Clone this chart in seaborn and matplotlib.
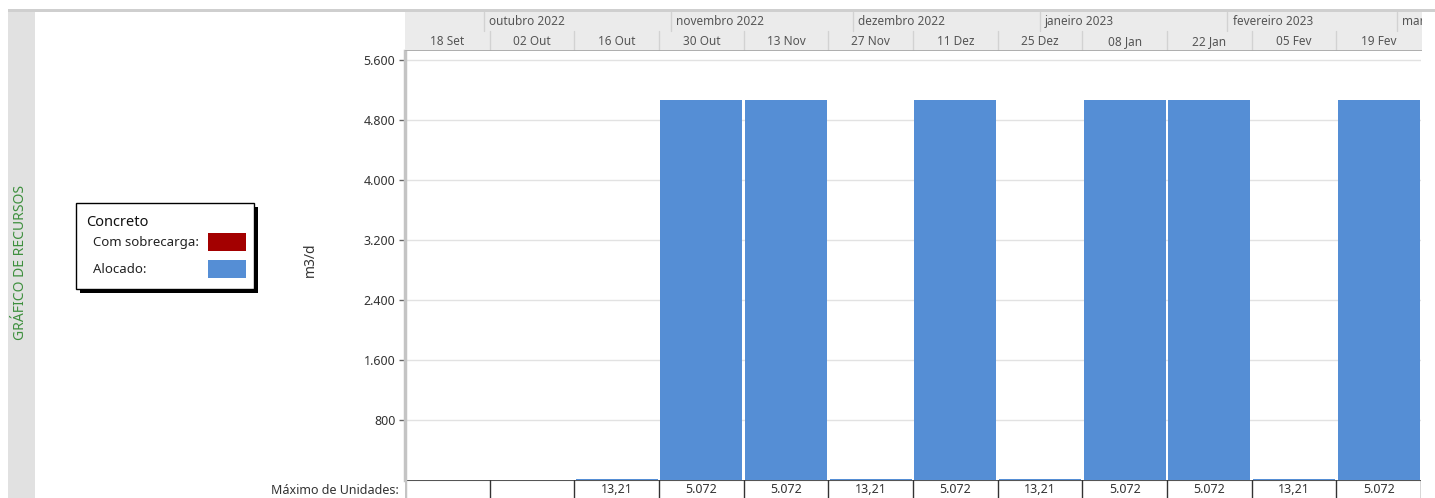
import numpy as np
import pandas as pd
import matplotlib
matplotlib.use("Agg")
import matplotlib.pyplot as plt
import matplotlib.transforms as mtransforms
from matplotlib.patches import Rectangle
import seaborn as sns

# ---- dados ----
period_starts = ["2022-09-18", "2022-10-02", "2022-10-16", "2022-10-30", "2022-11-13", "2022-11-27",
                 "2022-12-11", "2022-12-25", "2023-01-08", "2023-01-22", "2023-02-05", "2023-02-19"]
period_labels = ["18 Set", "02 Out", "16 Out", "30 Out", "13 Nov", "27 Nov",
                 "11 Dez", "25 Dez", "08 Jan", "22 Jan", "05 Fev", "19 Fev"]
max_units = [np.nan, np.nan, 13.21, 5072, 5072, 13.21, 5072, 13.21, 5072, 5072, 13.21, 5072]
month_starts = ["2022-10-01", "2022-11-01", "2022-12-01", "2023-01-01", "2023-02-01", "2023-03-01"]
month_labels = ["outubro 2022", "novembro 2022", "dezembro 2022", "janeiro 2023", "fevereiro 2023", "março 2023"]
y_ticks = [800, 1600, 2400, 3200, 4000, 4800, 5600]
legend_title = "Concreto"
legend_items = ["Com sobrecarga:", "Alocado:"]

colors = {"Com sobrecarga:": "#a30000", "Alocado:": "#558ed5"}

W, H = 1435, 498


def fmt_br(v):
    if v == int(v):
        return f"{v:,.0f}".replace(",", ".")
    return f"{v:.2f}".replace(".", ",")


def px_rect(x0, y0, x1, y1):
    return [x0 / W, 1 - y1 / H, (x1 - x0) / W, (y1 - y0) / H]


sns.set_theme(style="white")
plt.rcParams["font.family"] = ["Noto Sans", "DejaVu Sans"]

fig = plt.figure(figsize=(W / 100, H / 100), dpi=100, facecolor="white")
pix = mtransforms.Affine2D().scale(1 / W, -1 / H).translate(0, 1) + fig.transFigure

# ---- moldura da janela ----
fig.add_artist(Rectangle((8, 12), 27, H - 12, transform=pix, facecolor="#e1e1e1", edgecolor="none"))
fig.add_artist(Rectangle((8, 9.5), W - 8, 2.5, transform=pix, facecolor="#cfcfcf", edgecolor="none"))
fig.text(21 / W, 1 - 262 / H, "GRÁFICO DE RECURSOS", rotation=90, ha="center", va="center",
         color="#3d8f3d", fontsize=10)

# ---- gráfico principal ----
ax = fig.add_axes(px_rect(405, 51, 1421, 480))
df = pd.DataFrame({"periodo": period_labels, "unidades": max_units}).dropna()
sns.barplot(data=df, x="periodo", y="unidades", order=period_labels, color=colors["Alocado:"],
            saturation=1, width=0.968, errorbar=None, linewidth=0, ax=ax)
ax.set_xlim(-0.5, len(period_labels) - 0.5)
ax.set_ylim(0, 5720)
ax.set_yticks(y_ticks)
ax.set_yticklabels([fmt_br(t) for t in y_ticks])
ax.set_axisbelow(True)
ax.yaxis.grid(True, color="#e2e2e2", linewidth=1)
ax.xaxis.grid(False)
ax.tick_params(axis="x", bottom=False, labelbottom=False)
ax.tick_params(axis="y", left=True, length=4, width=1, color="#666666", pad=3,
               labelsize=9, labelcolor="#333333")
ax.set_xlabel("")
ax.set_ylabel("m3/d", fontsize=10, color="#333333")
ax.yaxis.set_label_coords((318 - 405) / (1421 - 405), (480 - 260) / (480 - 51))
for side in ["top", "right", "bottom"]:
    ax.spines[side].set_visible(False)
ax.spines["left"].set_color("#c4c4c4")
ax.spines["left"].set_linewidth(2.5)

# ---- cabeçalho da escala de tempo ----
hax = fig.add_axes(px_rect(405, 12, 1422, 51))
hax.set_facecolor("#ebebeb")
hax.set_xlim(-0.5, len(period_labels) - 0.5 + 1 / 84.7)
hax.set_ylim(0, 2)
hax.set_xticks([])
hax.set_yticks([])
for s in hax.spines.values():
    s.set_visible(False)
t0 = pd.Timestamp(period_starts[0])
for i, lab in enumerate(period_labels):
    hax.text(i, 0.5, lab, ha="center", va="center", fontsize=8.5, color="#555555")
    if i < len(period_labels) - 1:
        hax.plot([i + 0.5, i + 0.5], [0, 1], color="#d2d2d2", lw=1)
for ms, ml in zip(month_starts, month_labels):
    xm = (pd.Timestamp(ms) - t0).days / 14 - 0.5
    hax.plot([xm, xm], [1, 2], color="#d2d2d2", lw=1)
    hax.text(xm + 0.06, 1.5, ml, ha="left", va="center", fontsize=8.5, color="#555555", clip_on=True)
hax.axhline(0, color="#a8a8a8", lw=2)

# ---- linha da tabela ----
tax = fig.add_axes(px_rect(405, 480, 1421, H))
tax.set_xlim(-0.5, len(period_labels) - 0.5)
tax.set_ylim(0, 1)
tax.set_xticks([])
tax.set_yticks([])
for s in tax.spines.values():
    s.set_visible(False)
tax.axhline(1, color="#555555", lw=1.5)
tax.plot([-0.5, -0.5], [0, 1], color="#c4c4c4", lw=2.5)
for i in range(len(period_labels)):
    tax.plot([i + 0.5, i + 0.5], [0, 1], color="#333333", lw=1)
    v = max_units[i]
    if not np.isnan(v):
        tax.text(i, 0.45, fmt_br(v), ha="center", va="center", fontsize=9, color="#333333")
fig.text(399 / W, 1 - 490.5 / H, "Máximo de Unidades:", ha="right", va="center",
         fontsize=9, color="#333333")

# ---- legenda ----
fig.add_artist(Rectangle((80, 207), 178, 86, transform=pix, facecolor="black", edgecolor="none"))
fig.add_artist(Rectangle((76, 203), 178, 86, transform=pix, facecolor="white",
                         edgecolor="black", linewidth=1))
fig.text(86 / W, 1 - 222 / H, legend_title, ha="left", va="center", fontsize=10.5, color="#111111")
for lab, yc in zip(legend_items, [242, 269]):
    fig.text(93 / W, 1 - yc / H, lab, ha="left", va="center", fontsize=9.5, color="#222222")
    fig.add_artist(Rectangle((208, yc - 9), 38, 18, transform=pix,
                             facecolor=colors[lab], edgecolor="none"))

fig.savefig("out.png", dpi=100, facecolor="white")
